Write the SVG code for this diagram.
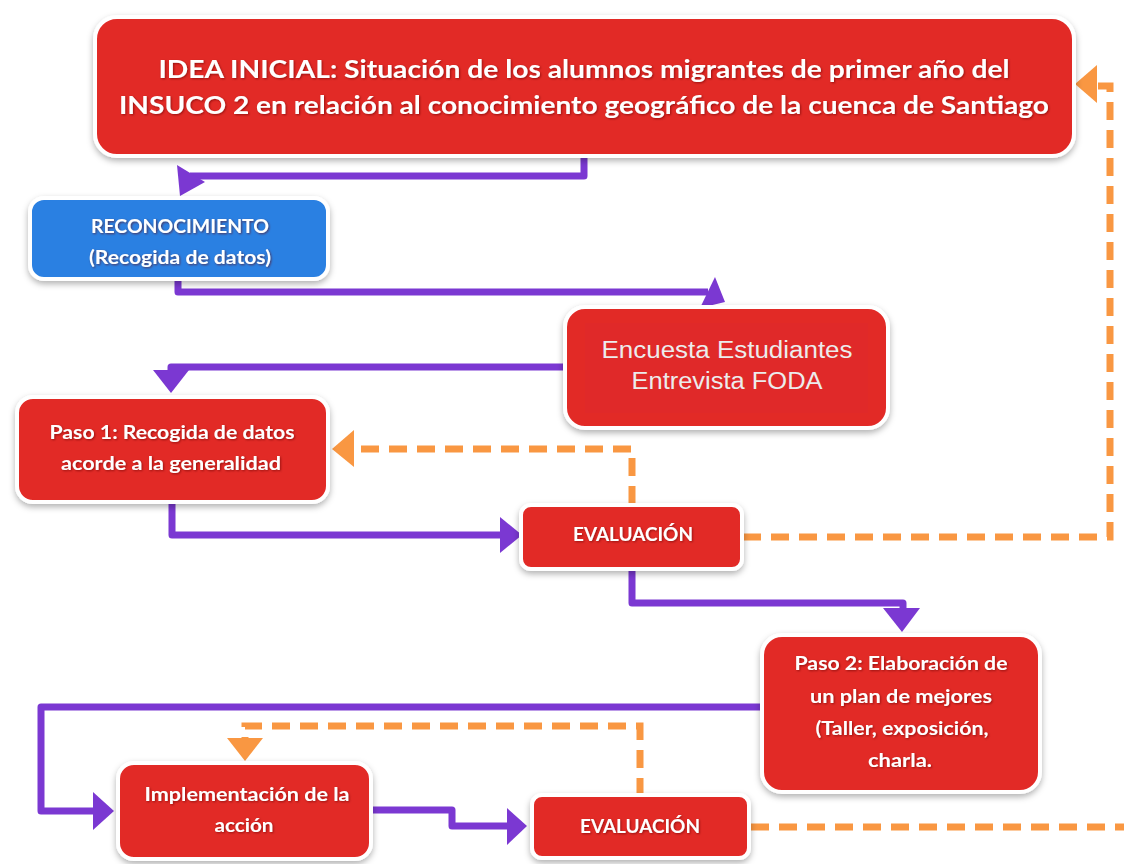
<svg xmlns="http://www.w3.org/2000/svg" width="1124" height="864" viewBox="0 0 1124 864">
<defs>
<filter id="sh" x="-10%" y="-10%" width="120%" height="130%">
<feDropShadow dx="0" dy="3" stdDeviation="3" flood-color="#000" flood-opacity="0.3"/>
</filter>
<filter id="ts" x="-5%" y="-20%" width="110%" height="150%">
<feDropShadow dx="1" dy="1" stdDeviation="0.8" flood-color="#600" flood-opacity="0.6"/>
</filter>
<style>
.red{fill:#E22B28;stroke:#fff;stroke-width:4;filter:url(#sh)}
.blue{fill:#2A80E2;stroke:#fff;stroke-width:4;filter:url(#sh)}
.t{font-family:Lato,"Open Sans","Liberation Sans",sans-serif;font-weight:bold;fill:#fff;text-anchor:middle;filter:url(#ts)}
.ta{font-family:"Liberation Sans",Arial,sans-serif;fill:#ECECEC;text-anchor:middle;font-size:23px}
.p{fill:none;stroke:#7B38D2;stroke-width:7;stroke-linejoin:round}
.pa{fill:#7B38D2}
.o{fill:none;stroke:#F99742;stroke-width:7;stroke-dasharray:18 10}
.oa{fill:#F99742}
</style>
</defs>
<rect width="1124" height="864" fill="#fff"/>

<g id="connectors">
<path class="p" d="M584,155 V176 H190"/>
<polygon class="pa" points="177,165 205,182 180,196"/>
<path class="p" d="M178,280 V292 H708"/>
<polygon class="pa" points="715,277 725,302 700,308"/>
<path class="p" d="M566,367 H171 V375"/>
<polygon class="pa" points="153,370 189,370 171,393"/>
<path class="p" d="M172,502 V535 H505"/>
<polygon class="pa" points="500,517 522,535 500,553"/>
<path class="p" d="M632,569 V603 H903 V612"/>
<polygon class="pa" points="883,608 920,608 902,632"/>
<path class="p" d="M763,707 H41 V811 H98"/>
<polygon class="pa" points="93,792 93,830 114,811"/>
<path class="p" d="M371,810 H452 V826 H512"/>
<polygon class="pa" points="507,808 507,845 527,826"/>
<path class="o" d="M632,504 V449 H352"/>
<polygon class="oa" points="332,449 354,430 354,467"/>
<path class="o" d="M743,537 H1110 V86 H1098"/>
<polygon class="oa" points="1075,84 1097,65 1097,103"/>
<path class="o" d="M640,796 V726 H245 V740"/>
<polygon class="oa" points="227,738 263,738 245,761"/>
<path class="o" d="M751,827 H1124"/>
</g>

<g id="idea-inicial">
<rect class="red" x="95" y="17" width="979" height="139" rx="22"/>
<text class="t" x="584" y="78" font-size="25" textLength="851" lengthAdjust="spacingAndGlyphs">IDEA INICIAL: Situación de los alumnos migrantes de primer año del</text>
<text class="t" x="584" y="114" font-size="25" textLength="930" lengthAdjust="spacingAndGlyphs">INSUCO 2 en relación al conocimiento geográfico de la cuenca de Santiago</text>
</g>

<g id="reconocimiento">
<rect class="blue" x="30" y="198" width="298" height="81" rx="14"/>
<text class="t" x="180" y="233" font-size="19" textLength="178" lengthAdjust="spacingAndGlyphs">RECONOCIMIENTO</text>
<text class="t" x="180" y="264" font-size="19" textLength="182" lengthAdjust="spacingAndGlyphs">(Recogida de datos)</text>
</g>

<g id="encuesta">
<rect class="red" x="565" y="307" width="323" height="121" rx="20"/>
<rect x="585" y="323" width="283" height="90" fill="#E02929"/>
<text class="ta" x="727" y="358" textLength="251" lengthAdjust="spacingAndGlyphs">Encuesta Estudiantes</text>
<text class="ta" x="727" y="389" textLength="191" lengthAdjust="spacingAndGlyphs">Entrevista FODA</text>
</g>

<g id="paso1">
<rect class="red" x="17" y="397" width="311" height="105" rx="16"/>
<text class="t" x="172" y="439" font-size="19" textLength="245" lengthAdjust="spacingAndGlyphs">Paso 1: Recogida de datos</text>
<text class="t" x="171" y="470" font-size="19" textLength="220" lengthAdjust="spacingAndGlyphs">acorde a la generalidad</text>
</g>

<g id="evaluacion1">
<rect class="red" x="521" y="505" width="221" height="64" rx="10"/>
<text class="t" x="633" y="541" font-size="19" textLength="120" lengthAdjust="spacingAndGlyphs">EVALUACIÓN</text>
</g>

<g id="paso2">
<rect class="red" x="762" y="635" width="278" height="157" rx="20"/>
<text class="t" x="901" y="670" font-size="19" textLength="213" lengthAdjust="spacingAndGlyphs">Paso 2: Elaboración de</text>
<text class="t" x="901" y="703" font-size="19" textLength="182" lengthAdjust="spacingAndGlyphs">un plan de mejores</text>
<text class="t" x="902" y="735" font-size="19" textLength="173" lengthAdjust="spacingAndGlyphs">(Taller, exposición,</text>
<text class="t" x="900" y="767" font-size="19" textLength="64" lengthAdjust="spacingAndGlyphs">charla.</text>
</g>

<g id="implementacion">
<rect class="red" x="118" y="763" width="253" height="96" rx="16"/>
<text class="t" x="247" y="801" font-size="19" textLength="205" lengthAdjust="spacingAndGlyphs">Implementación de la</text>
<text class="t" x="244" y="832" font-size="19" textLength="59" lengthAdjust="spacingAndGlyphs">acción</text>
</g>

<g id="evaluacion2">
<rect class="red" x="532" y="795" width="217" height="63" rx="10"/>
<text class="t" x="640" y="833" font-size="19" textLength="120" lengthAdjust="spacingAndGlyphs">EVALUACIÓN</text>
</g>
</svg>
